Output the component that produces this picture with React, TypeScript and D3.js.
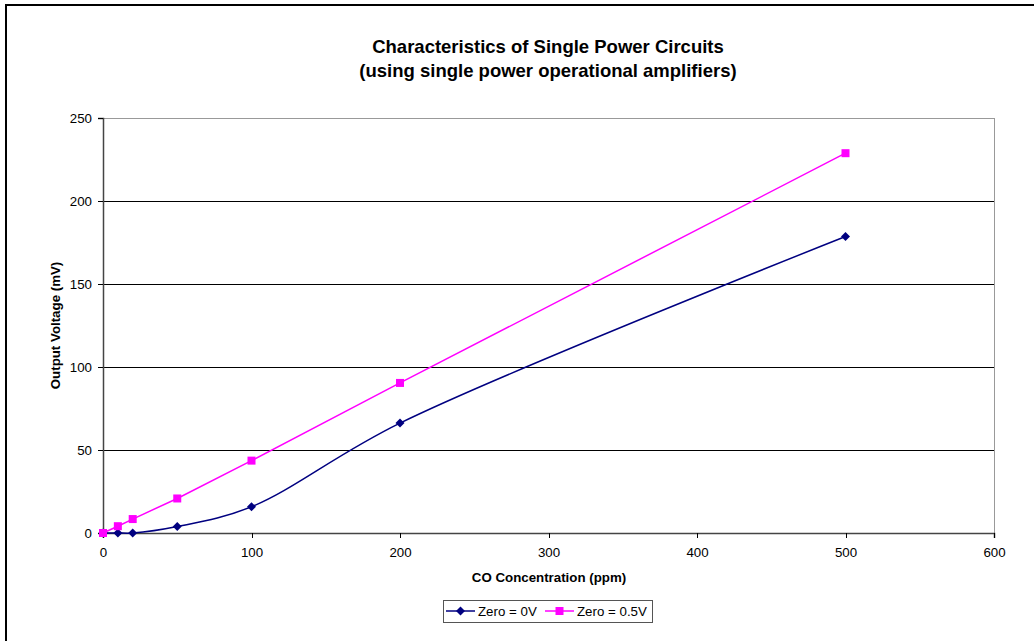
import React, { useEffect, useRef } from "react";
import * as d3 from "d3";

const concentrations = [0, 10, 20, 50, 100, 200, 500];
const zero0V = [0, 0, 0, 3.9, 15.8, 66.2, 178.6];
const zero05V = [0, 4.1, 8.4, 20.8, 43.6, 90.4, 228.8];
const xTicks = [0, 100, 200, 300, 400, 500, 600];
const yTicks = [0, 50, 100, 150, 200, 250];

const App: React.FC = () => {
  const svgRef = useRef<SVGSVGElement>(null);

  useEffect(() => {
    const svg = d3.select(svgRef.current);
    svg.selectAll("*").remove();
    const font = "Liberation Sans, Arial, sans-serif";

    // outer chart frame (right/bottom edges run off the picture)
    svg
      .append("rect")
      .attr("x", 6)
      .attr("y", 5)
      .attr("width", 1100)
      .attr("height", 700)
      .attr("fill", "white")
      .attr("stroke", "black")
      .attr("stroke-width", 2);

    const margin = { left: 103, right: 994, top: 118, bottom: 533 };
    const x = d3.scaleLinear().domain([0, 600]).range([margin.left, margin.right]);
    const y = d3.scaleLinear().domain([0, 250]).range([margin.bottom, margin.top]);

    // title
    const title = svg
      .append("text")
      .attr("text-anchor", "middle")
      .attr("font-family", font)
      .attr("font-weight", "bold")
      .attr("font-size", 18.5);
    title.append("tspan").attr("x", 548).attr("y", 53).text("Characteristics of Single Power Circuits");
    title.append("tspan").attr("x", 548).attr("y", 77).text("(using single power operational amplifiers)");

    // gridlines
    svg
      .append("g")
      .selectAll("line")
      .data(yTicks.filter((d) => d > 0 && d < 250))
      .join("line")
      .attr("x1", margin.left)
      .attr("x2", margin.right)
      .attr("y1", (d) => y(d))
      .attr("y2", (d) => y(d))
      .attr("stroke", "black")
      .attr("stroke-width", 1)
      .attr("shape-rendering", "crispEdges");

    // plot border (top/right)
    svg
      .append("path")
      .attr("d", `M${margin.left},${y(250)}H${margin.right}V${margin.bottom}`)
      .attr("fill", "none")
      .attr("stroke", "#999")
      .attr("stroke-width", 1)
      .attr("shape-rendering", "crispEdges");

    // axes
    const yAxis = svg
      .append("g")
      .attr("transform", `translate(${margin.left},0)`)
      .call(d3.axisLeft(y).tickValues(yTicks).tickSize(5).tickPadding(6));
    const xAxis = svg
      .append("g")
      .attr("transform", `translate(0,${margin.bottom})`)
      .call(d3.axisBottom(x).tickValues(xTicks).tickSize(5).tickPadding(10));
    [xAxis, yAxis].forEach((a) => {
      a.select(".domain").attr("stroke", "#444").attr("stroke-width", 1.5);
      a.selectAll(".tick line").attr("stroke", "black").attr("shape-rendering", "crispEdges");
      a.selectAll(".tick text")
        .attr("font-family", font)
        .attr("font-size", 13.3)
        .attr("fill", "black");
    });

    svg
      .append("text")
      .attr("x", 549)
      .attr("y", 582)
      .attr("text-anchor", "middle")
      .attr("font-family", font)
      .attr("font-weight", "bold")
      .attr("font-size", 13.3)
      .text("CO Concentration (ppm)");
    svg
      .append("text")
      .attr("transform", `translate(60,${(margin.top + margin.bottom) / 2}) rotate(-90)`)
      .attr("text-anchor", "middle")
      .attr("font-family", font)
      .attr("font-weight", "bold")
      .attr("font-size", 13.3)
      .text("Output Voltage (mV)");

    const series = [
      { name: "Zero = 0V", values: zero0V, color: "#000080", marker: "diamond", curve: d3.curveCatmullRom.alpha(0.5) },
      { name: "Zero = 0.5V", values: zero05V, color: "#ff00ff", marker: "square", curve: d3.curveLinear },
    ];

    const drawMarker = (g: any, cx: number, cy: number, s: any) => {
      if (s.marker === "diamond") {
        g.append("path")
          .attr("d", `M${cx},${cy - 4.5}L${cx + 4.5},${cy}L${cx},${cy + 4.5}L${cx - 4.5},${cy}Z`)
          .attr("fill", s.color);
      } else {
        g.append("rect")
          .attr("x", cx - 4)
          .attr("y", cy - 4)
          .attr("width", 8)
          .attr("height", 8)
          .attr("fill", s.color);
      }
    };

    series.forEach((s) => {
      const line = d3
        .line<number>()
        .x((_, i) => x(concentrations[i]))
        .y((d) => y(d))
        .curve(s.curve);
      svg
        .append("path")
        .attr("d", line(s.values))
        .attr("fill", "none")
        .attr("stroke", s.color)
        .attr("stroke-width", 1.5);
    });
    series.forEach((s) => {
      const g = svg.append("g");
      s.values.forEach((v, i) => drawMarker(g, x(concentrations[i]), y(v), s));
    });

    // legend
    const lg = svg.append("g");
    lg.append("rect")
      .attr("x", 443.5)
      .attr("y", 600.5)
      .attr("width", 209)
      .attr("height", 22)
      .attr("fill", "white")
      .attr("stroke", "#555")
      .attr("stroke-width", 1);
    const legendX = [446, 545];
    series.forEach((s, i) => {
      const lx = legendX[i];
      lg.append("line")
        .attr("x1", lx)
        .attr("x2", lx + 29)
        .attr("y1", 611)
        .attr("y2", 611)
        .attr("stroke", s.color)
        .attr("stroke-width", 1.5);
      drawMarker(lg, lx + 14.5, 611, s);
      lg.append("text")
        .attr("x", lx + 32)
        .attr("y", 616)
        .attr("font-family", font)
        .attr("font-size", 13.3)
        .text(s.name);
    });
  }, []);

  return (
    <svg
      ref={svgRef}
      width={1034}
      height={641}
      style={{ position: "absolute", left: 0, top: 0, background: "white" }}
    />
  );
};

export default App;
